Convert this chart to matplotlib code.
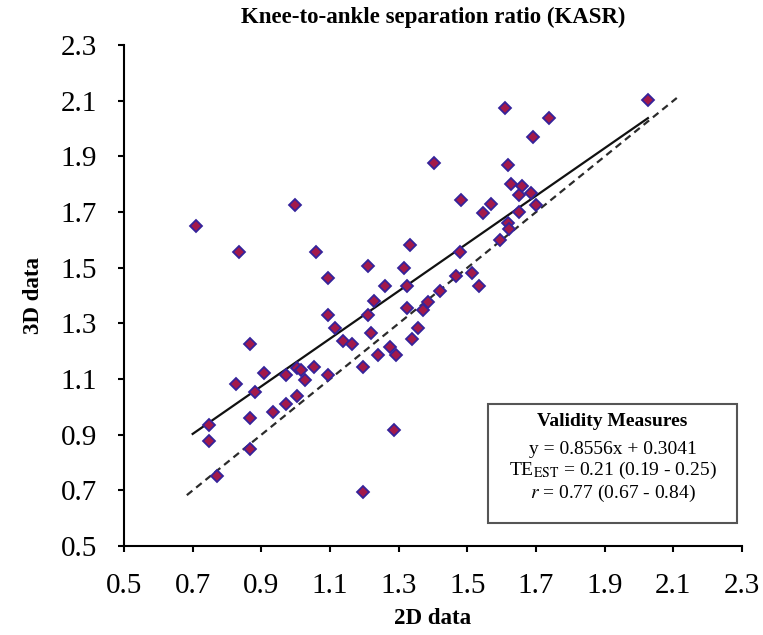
import numpy as np
import matplotlib.pyplot as plt
from matplotlib.patches import Rectangle

plt.rcParams['font.family'] = ['Liberation Serif', 'DejaVu Serif']
plt.rcParams['mathtext.fontset'] = 'stix'

# 2D vs 3D KASR values
x2d = [0.710, 0.836, 0.997, 1.060, 1.093, 1.211, 1.332, 1.316, 1.260, 1.325,
       1.403, 1.419, 1.227, 1.385, 1.370, 1.325, 1.211, 1.093, 1.115, 1.355,
       1.219, 1.138, 1.165, 1.340, 1.275, 1.292, 1.240, 1.197, 0.868, 0.909,
       0.827, 0.883, 0.971, 1.005, 1.015, 1.052, 1.027, 1.093, 1.003, 0.972,
       0.935, 0.868, 0.747, 0.747, 0.868, 0.771, 1.285, 1.197, 2.026, 1.611,
       1.739, 1.690, 1.619, 1.626, 1.660, 1.650, 1.685, 1.700, 1.482, 1.570,
       1.546, 1.650, 1.619, 1.621, 1.594, 1.478, 1.468, 1.515, 1.533]
y3d = [1.649, 1.556, 1.726, 1.556, 1.463, 1.508, 1.583, 1.499, 1.434, 1.434,
       1.876, 1.415, 1.379, 1.377, 1.347, 1.357, 1.329, 1.332, 1.284, 1.284,
       1.266, 1.236, 1.227, 1.244, 1.217, 1.188, 1.185, 1.142, 1.225, 1.123,
       1.084, 1.054, 1.114, 1.141, 1.132, 1.142, 1.095, 1.114, 1.039, 1.010,
       0.981, 0.961, 0.935, 0.877, 0.848, 0.752, 0.916, 0.696, 2.103, 2.073,
       2.037, 1.971, 1.869, 1.801, 1.795, 1.763, 1.768, 1.727, 1.744, 1.728,
       1.698, 1.700, 1.661, 1.640, 1.601, 1.556, 1.471, 1.480, 1.433]

slope = 0.8556
intercept = 0.3041
fit_x = np.array([0.70, 2.026])
identity_x = np.array([0.683, 2.11])
ticks = np.arange(0.5, 2.31, 0.2)

fig = plt.figure(figsize=(7.63, 6.35), dpi=100)
ax = fig.add_axes([0.1625, 0.140, 0.81, 0.789])

ax.plot(identity_x, identity_x, color='#2b2b2b', lw=1.6, ls=(0, (3.2, 2.2)), zorder=2)
ax.plot(fit_x, slope * fit_x + intercept, color='#111111', lw=1.6, zorder=3)
ax.plot(x2d, y3d, ls='none', marker='D', ms=6.6, mfc='#a3194a', mec='#35239b',
        mew=1.3, zorder=4)

ax.set_xlim(0.5, 2.3)
ax.set_ylim(0.5, 2.3)
ax.set_xticks(ticks)
ax.set_yticks(ticks)
ax.set_xticklabels(['%.1f' % t for t in ticks])
ax.set_yticklabels(['%.1f' % t for t in ticks])
for s in ['top', 'right']:
    ax.spines[s].set_visible(False)
for s in ['left', 'bottom']:
    ax.spines[s].set_linewidth(1.5)
ax.tick_params(axis='both', direction='out', length=4.5, width=1.5, labelsize=21)
ax.tick_params(axis='x', pad=15)
ax.tick_params(axis='y', pad=15)

ax.set_title('Knee-to-ankle separation ratio (KASR)', fontsize=16.5,
             fontweight='bold', pad=16)
ax.set_xlabel('2D data', fontsize=16.5, fontweight='bold', labelpad=6)
ax.set_ylabel('3D data', fontsize=16.5, fontweight='bold', labelpad=12)

# validity measures box
fig.patches.append(Rectangle((0.6396, 0.1764), 0.3264, 0.1874, transform=fig.transFigure,
                             fill=False, edgecolor='#555555', lw=1.5))
cx = 0.8028
fig.text(cx, 1 - 421 / 635, 'Validity Measures', ha='center', va='center',
         fontsize=14, fontweight='bold')
fig.text(cx, 1 - 450 / 635, 'y = 0.8556x + 0.3041', ha='center', va='center', fontsize=14)
fig.text(cx, 1 - 470 / 635, r'TE$_{\mathrm{EST}}$ = 0.21 (0.19 - 0.25)', ha='center',
         va='center', fontsize=14)
fig.text(cx, 1 - 493 / 635, r'$r$ = 0.77 (0.67 - 0.84)', ha='center', va='center',
         fontsize=14)

fig.savefig('out.png', dpi=100)
